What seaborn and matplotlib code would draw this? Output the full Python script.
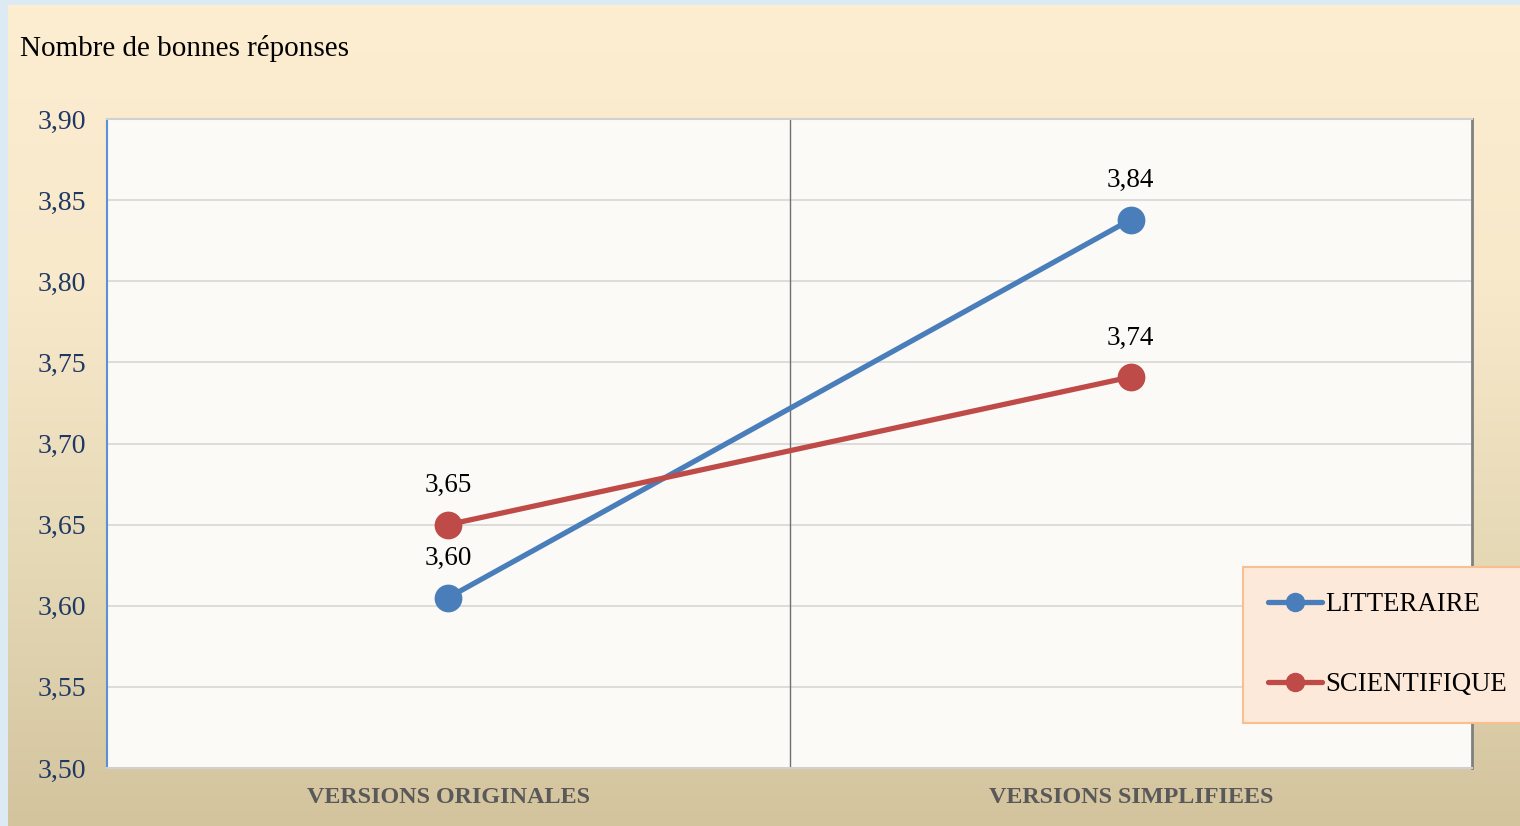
import numpy as np
import pandas as pd
import matplotlib
matplotlib.use("Agg")
import matplotlib.pyplot as plt
import seaborn as sns
from matplotlib.colors import LinearSegmentedColormap

categories = ["VERSIONS ORIGINALES", "VERSIONS SIMPLIFIEES"]
litteraire = [3.605, 3.838]
scientifique = [3.650, 3.741]
lit_labels = ["3,60", "3,84"]
sci_labels = ["3,65", "3,74"]
yticks = [3.50, 3.55, 3.60, 3.65, 3.70, 3.75, 3.80, 3.85, 3.90]
series_names = ["LITTERAIRE", "SCIENTIFIQUE"]
colors = ["#4A7EBB", "#BE4B48"]

sns.set_theme(style="white")
plt.rcParams['font.family'] = ['Liberation Serif', 'DejaVu Serif']
plt.rcParams['text.color'] = 'black'

W, H = 1520, 826
fig = plt.figure(figsize=(W / 100, H / 100), dpi=100)
fig.patch.set_facecolor("#DCEAF4")

# gradient background
bg = fig.add_axes([8 / W, 0, 1 - 8 / W, (H - 5) / H])
bg.set_axis_off()
cmap = LinearSegmentedColormap.from_list("g", ["#FDEDD1", "#F8E9CB", "#E6D9B6", "#D3C49E"])
grad = np.linspace(0, 1, 256).reshape(-1, 1)
bg.imshow(grad, aspect="auto", cmap=cmap, extent=[0, 1, 0, 1], origin="upper")
bg.set_zorder(0)

ax = fig.add_axes([107 / W, (H - 768) / H, (1472 - 107) / W, (768 - 119) / H])
ax.set_zorder(1)
ax.set_facecolor("#FBFAF7")

rows = []
for name, vals in zip(series_names, [litteraire, scientifique]):
    for i, v in enumerate(vals):
        rows.append({"x": i, "y": v, "serie": name})
df = pd.DataFrame(rows)

sns.lineplot(data=df, x="x", y="y", hue="serie", palette=colors, marker="o",
             markersize=20, linewidth=3.8, markeredgewidth=0, ax=ax, zorder=3)

ax.set_xlim(-0.5, 1.5)
ax.set_ylim(3.50, 3.90)
ax.set_yticks(yticks)
ax.set_yticklabels([f"{t:.2f}".replace(".", ",") for t in yticks], color="#1F3864", fontsize=20)
ax.set_xticks([0, 1])
ax.set_xticklabels(categories, fontsize=17.4, fontweight="bold", color="#595959")
ax.tick_params(axis="x", length=0, pad=14)
ax.tick_params(axis="y", length=0, pad=15)
ax.set_xlabel("")
ax.set_ylabel("")

for t in yticks[1:]:
    ax.axhline(t, color="#D9D9D9", linewidth=1.3, zorder=1)
ax.axvline(0.5, color="#707070", linewidth=1.0, zorder=1)

for s in ["top", "bottom"]:
    ax.spines[s].set_color("#D0D0D0")
    ax.spines[s].set_linewidth(1.5)
ax.spines["left"].set_color("#5B8FD6")
ax.spines["left"].set_linewidth(1.5)
ax.spines["right"].set_color("#808080")
ax.spines["right"].set_linewidth(2.0)

for vals, labs in zip([litteraire, scientifique], [lit_labels, sci_labels]):
    for i, (v, l) in enumerate(zip(vals, labs)):
        ax.annotate(l, (i, v), xytext=(0, 19), textcoords="offset points",
                    ha="center", va="bottom", fontsize=19.5, color="black")

fig.text(20 / W, 1 - 49 / H, "Nombre de bonnes réponses", fontsize=21,
         color="black", va="center", ha="left")

handles, labels = ax.get_legend_handles_labels()
leg = ax.legend(handles, labels, loc="upper left",
                bbox_to_anchor=((1243 - 107) / (1472 - 107), 1 - (567 - 119) / (768 - 119)),
                frameon=True, fancybox=False, fontsize=19.3, handlelength=2.0,
                handletextpad=0.12, labelspacing=2.05, borderpad=0.95,
                borderaxespad=0, markerscale=0.7, labelcolor="black")
leg.get_frame().set_facecolor("#FDE9D9")
leg.get_frame().set_edgecolor("#F9BF8F")
leg.get_frame().set_linewidth(1.5)
leg.get_frame().set_alpha(1)
leg.set_zorder(5)
leg.set_clip_on(False)

fig.savefig("out.png", dpi=100)
